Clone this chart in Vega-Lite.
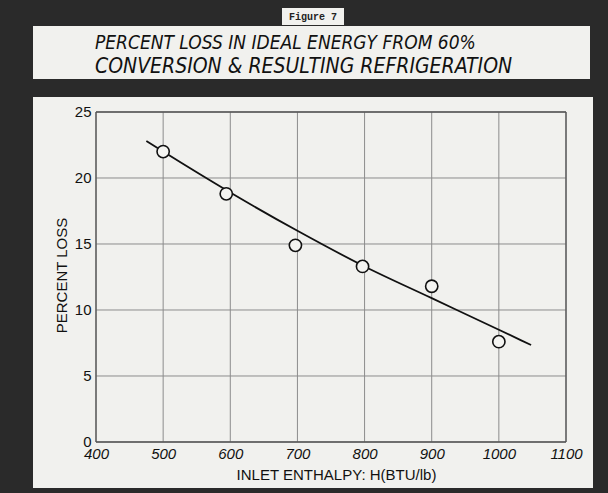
{
  "$schema": "https://vega.github.io/schema/vega-lite/v6.json",
  "background": "#2a2a2a",
  "padding": {"left": 33, "top": 8, "right": 15, "bottom": 5},
  "config": {
    "view": {"fill": "#f1f1ee", "stroke": null},
    "font": "Liberation Sans"
  },
  "datasets": {
    "pts": [
      {"h": 500, "p": 22.0},
      {"h": 594, "p": 18.8},
      {"h": 697, "p": 14.9},
      {"h": 797, "p": 13.3},
      {"h": 900, "p": 11.8},
      {"h": 1000, "p": 7.6}
    ],
    "fit": [
      {"h": 475, "p": 22.8},
      {"h": 500, "p": 22.0},
      {"h": 600, "p": 18.9},
      {"h": 700, "p": 16.0},
      {"h": 800, "p": 13.3},
      {"h": 900, "p": 10.9},
      {"h": 1000, "p": 8.5},
      {"h": 1048, "p": 7.35}
    ],
    "gx": [
      {"h": 400, "p": 0, "p2": 25}, {"h": 500, "p": 0, "p2": 25}, {"h": 600, "p": 0, "p2": 25},
      {"h": 700, "p": 0, "p2": 25}, {"h": 800, "p": 0, "p2": 25}, {"h": 900, "p": 0, "p2": 25},
      {"h": 1000, "p": 0, "p2": 25}, {"h": 1100, "p": 0, "p2": 25}
    ],
    "gy": [
      {"p": 0, "h": 400, "h2": 1100}, {"p": 5, "h": 400, "h2": 1100}, {"p": 10, "h": 400, "h2": 1100},
      {"p": 15, "h": 400, "h2": 1100}, {"p": 20, "h": 400, "h2": 1100}, {"p": 25, "h": 400, "h2": 1100}
    ],
    "fig": [{"label": "Figure 7"}]
  },
  "center": true,
  "spacing": 1,
  "vconcat": [
    {
      "width": 62,
      "height": 17,
      "view": {"fill": "#f1f1ee", "stroke": null},
      "data": {"name": "fig"},
      "mark": {"type": "text", "font": "Liberation Mono", "fontWeight": "bold", "fontSize": 10, "color": "#222"},
      "encoding": {"text": {"field": "label"}}
    },
    {
      "spacing": 18,
      "vconcat": [
        {
          "width": 557,
          "height": 53,
          "view": {"fill": "#f1f1ee", "stroke": null},
          "data": {"name": "fig"},
          "mark": {"type": "text", "opacity": 0},
          "encoding": {},
          "title": {
            "text": "PERCENT LOSS IN IDEAL ENERGY FROM 60%",
            "subtitle": "CONVERSION & RESULTING REFRIGERATION",
            "anchor": "start",
            "frame": "group",
            "orient": "top",
            "offset": -51,
            "dx": 62,
            "font": "DejaVu Sans Condensed",
            "fontStyle": "italic",
            "fontWeight": "normal",
            "fontSize": 19,
            "color": "#111",
            "subtitleFont": "DejaVu Sans Condensed",
            "subtitleFontStyle": "italic",
            "subtitleFontSize": 21,
            "subtitleColor": "#111",
            "subtitlePadding": 3
          }
        },
        {
          "width": 560,
          "height": 391,
          "view": {"fill": "#f1f1ee", "stroke": null},
          "encoding": {
            "x": {
              "field": "h",
              "type": "quantitative",
              "scale": {"domain": [306.17, 1140.21], "nice": false, "zero": false},
              "axis": {
                "values": [400, 500, 600, 700, 800, 900, 1000, 1100],
                "format": "d",
                "domain": false,
                "ticks": false,
                "grid": false,
                "offset": -46,
                "labelPadding": 4,
                "labelFontSize": 15,
                "labelFontStyle": "italic",
                "labelColor": "#111",
                "title": "INLET ENTHALPY: H(BTU/lb)",
                "titleFontSize": 15,
                "titleFontWeight": "normal",
                "titleColor": "#111",
                "titlePadding": 6,
                "titleX": 303
              }
            },
            "y": {
              "field": "p",
              "type": "quantitative",
              "scale": {"domain": [-3.485, 26.136], "nice": false, "zero": false},
              "axis": {
                "values": [0, 5, 10, 15, 20, 25],
                "domain": false,
                "ticks": false,
                "grid": false,
                "offset": -63,
                "labelPadding": 5,
                "labelFontSize": 15,
                "labelColor": "#111",
                "title": "PERCENT LOSS",
                "titleFontSize": 15,
                "titleFontWeight": "normal",
                "titleColor": "#111",
                "titlePadding": 5,
                "titleY": 178
              }
            }
          },
          "layer": [
            {
              "data": {"name": "gx"},
              "mark": {"type": "rule", "color": "#8c8c8c", "strokeWidth": 1},
              "encoding": {"y2": {"field": "p2"}}
            },
            {
              "data": {"name": "gy"},
              "mark": {"type": "rule", "color": "#8c8c8c", "strokeWidth": 1},
              "encoding": {"x2": {"field": "h2"}}
            },
            {
              "data": {"name": "gx"},
              "transform": [{"filter": "datum.h == 400 || datum.h == 1100"}],
              "mark": {"type": "rule", "color": "#555", "strokeWidth": 1.3},
              "encoding": {"y2": {"field": "p2"}}
            },
            {
              "data": {"name": "gy"},
              "transform": [{"filter": "datum.p == 0 || datum.p == 25"}],
              "mark": {"type": "rule", "color": "#555", "strokeWidth": 1.3},
              "encoding": {"x2": {"field": "h2"}}
            },
            {
              "data": {"name": "fit"},
              "mark": {"type": "line", "color": "#111", "strokeWidth": 1.8, "interpolate": "monotone"}
            },
            {
              "data": {"name": "pts"},
              "mark": {"type": "point", "shape": "circle", "filled": true, "fill": "#f4f4f1", "stroke": "#111", "strokeWidth": 1.6, "size": 150, "opacity": 1}
            }
          ]
        }
      ]
    }
  ]
}
